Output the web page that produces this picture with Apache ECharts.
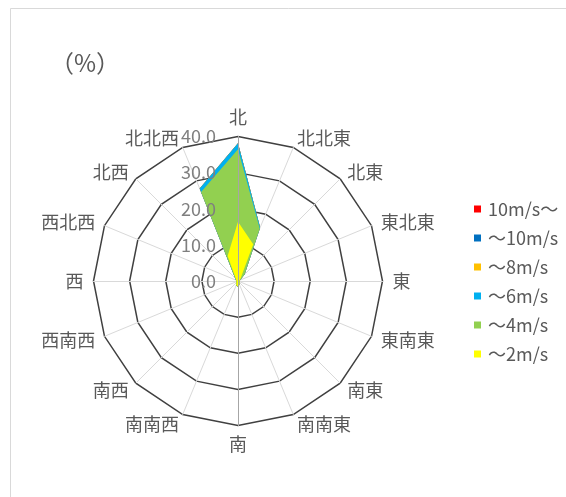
<!DOCTYPE html>
<html>
<head>
<meta charset="utf-8">
<script src="https://cdn.jsdelivr.net/npm/echarts@6/dist/echarts.min.js"></script>
<style>
  html, body { margin: 0; padding: 0; background: #ffffff; }
  #main { width: 566px; height: 497px; }
</style>
</head>
<body>
<div id="main"></div>
<script>
// 16 wind directions, clockwise from north
const directions = ['北', '北北東', '北東', '東北東', '東', '東南東', '南東', '南南東',
                    '南', '南南西', '南西', '西南西', '西', '西北西', '北西', '北北西'];

// Cumulative frequency (%) up to each wind-speed class, same direction order
const upTo2  = [16.4, 11.0, 1.0, 0.5, 0.4, 0.4, 0.6, 1.0, 1.5, 1.2, 0.6, 0.4, 0.4, 0.5, 0.8, 7.5];
const upTo4  = [36.5, 15.7, 2.5, 0.6, 0.4, 0.4, 0.6, 1.0, 1.6, 1.3, 0.6, 0.4, 0.4, 0.6, 1.0, 26.7];
const upTo6  = [38.1, 16.0, 2.6, 0.6, 0.4, 0.4, 0.6, 1.0, 1.6, 1.3, 0.6, 0.4, 0.4, 0.6, 1.1, 27.7];
const upTo8  = [38.1, 16.0, 2.6, 0.6, 0.4, 0.4, 0.6, 1.0, 1.6, 1.3, 0.6, 0.4, 0.4, 0.6, 1.1, 27.7];
const upTo10 = [38.1, 16.0, 2.6, 0.6, 0.4, 0.4, 0.6, 1.0, 1.6, 1.3, 0.6, 0.4, 0.4, 0.6, 1.1, 27.7];
const over10 = [38.1, 16.0, 2.6, 0.6, 0.4, 0.4, 0.6, 1.0, 1.6, 1.3, 0.6, 0.4, 0.4, 0.6, 1.1, 27.7];

// Speed classes (legend order, drawn back to front)
const classNames  = ['10m/s〜', '〜10m/s', '〜8m/s', '〜6m/s', '〜4m/s', '〜2m/s'];
const classColors = ['#FF0000', '#0070C0', '#FFC000', '#00B0F0', '#92D050', '#FFFF00'];
const classValues = [over10, upTo10, upTo8, upTo6, upTo4, upTo2];

// Radial scale
const axisMax = 40;
const axisSplits = 4;

const FONT = '"Noto Sans CJK JP", "Noto Sans", sans-serif';
const CENTER = [238, 281];
const RADIUS = 144.5;

// ECharts lays radar indicators out counter-clockwise; reorder so that
// the compass runs clockwise (北 → 北北東 → 北東 …).
const order = directions.map((_, i) => (directions.length - i) % directions.length);
const toRadar = arr => order.map(i => arr[i]);

const chart = echarts.init(document.getElementById('main'));

chart.setOption({
  backgroundColor: '#ffffff',
  animation: false,
  textStyle: { fontFamily: FONT },
  title: {
    text: '（%）',
    left: 50,
    top: 51,
    padding: 0,
    textStyle: { fontSize: 24, fontWeight: 'normal', color: '#595959', fontFamily: FONT }
  },
  graphic: [{
    type: 'rect',
    silent: true,
    shape: { x: 10.5, y: 8.5, width: 700, height: 700 },
    style: { fill: null, stroke: '#d9d9d9', lineWidth: 1 }
  }],
  legend: {
    orient: 'vertical',
    left: 474,
    top: 200,
    padding: 0,
    icon: 'rect',
    itemWidth: 7,
    itemHeight: 7,
    itemGap: 11,
    data: classNames,
    textStyle: { fontSize: 18, lineHeight: 18, color: '#595959', fontFamily: FONT, padding: [0, 0, 0, 2] }
  },
  radar: [
    {
      center: CENTER,
      radius: RADIUS,
      startAngle: 90,
      shape: 'polygon',
      splitNumber: axisSplits,
      z: 0,
      indicator: toRadar(directions).map(d => ({ name: d, min: 0, max: axisMax })),
      axisName: { color: '#595959', fontSize: 18, fontFamily: FONT },
      nameGap: 10,
      axisLine: { lineStyle: { color: '#d9d9d9', width: 1 } },
      axisTick: { show: false },
      axisLabel: { show: false },
      splitLine: { lineStyle: { color: '#404040', width: 1.5 } },
      splitArea: { show: false }
    },
    {
      // value axis (north-south line) with its tick labels, above the areas
      center: CENTER,
      radius: RADIUS,
      startAngle: 90,
      shape: 'polygon',
      splitNumber: axisSplits,
      z: 5,
      indicator: [
        { name: '', min: 0, max: axisMax, axisLabel: { show: true } },
        { name: '', min: 0, max: axisMax, axisLabel: { show: false } }
      ],
      axisName: { show: false },
      axisLine: { lineStyle: { color: '#a6a6a6', width: 1 } },
      axisTick: { show: false },
      axisLabel: {
        show: false,
        fontSize: 18,
        color: '#7f7f7f',
        fontFamily: FONT,
        padding: [0, 14, 0, 0],
        formatter: v => Number(v).toFixed(1)
      },
      splitLine: { show: false },
      splitArea: { show: false }
    }
  ],
  series: classNames.map((name, i) => ({
    type: 'radar',
    radarIndex: 0,
    name: name,
    symbol: 'none',
    silent: true,
    lineStyle: { width: 0, color: classColors[i] },
    itemStyle: { color: classColors[i] },
    areaStyle: { color: classColors[i], opacity: 1 },
    data: [{ name: name, value: toRadar(classValues[i]) }]
  }))
});
</script>
</body>
</html>
